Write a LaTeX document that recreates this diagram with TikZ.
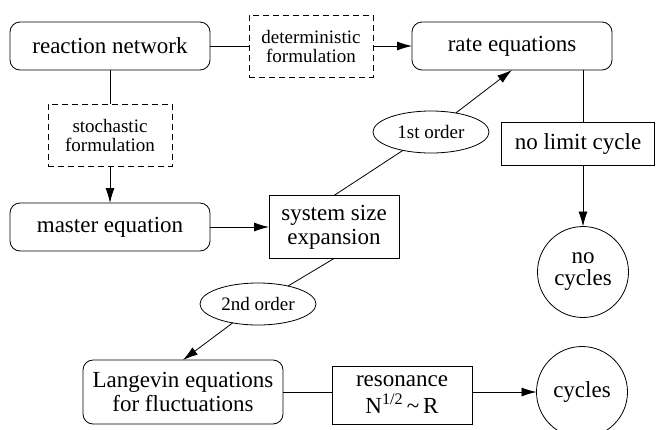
\documentclass[tikz,border=0pt]{standalone}
\usepackage{fontspec}
\setmainfont{Liberation Serif}
\usetikzlibrary{arrows.meta,shapes.geometric,positioning}

\begin{document}
\begin{tikzpicture}[
    x=1pt, y=-1pt,
    %framed,
    >={Latex[length=15pt,width=9pt]},
    every path/.style={line width=0.8pt},
    every node/.style={inner sep=0pt, outer sep=0pt, align=center, font=\fontsize{23}{24}\selectfont},
    punkt/.style={rectangle, rounded corners=10pt, draw=black, minimum width=200pt, minimum height=48pt},
    boks/.style={rectangle, draw=black, minimum height=43pt},
    stiplet/.style={rectangle, draw=black, dash pattern=on 6pt off 4pt, minimum width=124pt, minimum height=62pt, font=\fontsize{19}{19}\selectfont},
    oval/.style={ellipse, draw=black, minimum width=116pt, minimum height=42pt, font=\fontsize{19}{19}\selectfont},
    sirkel/.style={circle, draw=black, minimum size=91pt}
    ]
    \useasboundingbox (0,0) rectangle (656,429);
\node[punkt] (nettverk) at (110,46) {reaction network};
\node[stiplet] (determ) at (311,46) {deterministic\\formulation};
\node[punkt] (rate) at (512,46) {rate equations};
\node[stiplet] (stokast) at (110,135) {stochastic\\formulation};
\node[punkt] (master) at (110,227) {master equation};
\node[boks, minimum width=130pt, minimum height=63pt] (ekspansjon) at (334,227) {system size\\expansion};
\node[oval] (forste) at (431,132) {1st order};
\node[boks, minimum width=153pt] (grense) at (578,144) {no limit cycle};
\node[sirkel, font=\fontsize{23}{22}\selectfont] (ingen) at (583,272) {no\\cycles};
\node[oval] (andre) at (258,304) {2nd order};
\node[punkt, minimum height=64pt] (langevin) at (183,392) {Langevin equations\\for fluctuations};
\node[boks, minimum width=140pt, minimum height=58pt, font=\fontsize{23}{27}\selectfont] (resonans) at (402,395) {resonance\\N\textsuperscript{1/2}\,\textasciitilde\,R};
\node[sirkel] (sykler) at (582,392) {cycles};

% deterministic branch
\draw (nettverk) -- (determ);
\draw[->] (determ) -- (rate);
% stochastic branch
\draw (nettverk) -- (stokast);
\draw[->] (stokast) -- (master);
\draw[->] (master) -- (ekspansjon);
\draw (ekspansjon.north) -- (forste);
\draw[->] (forste) -- (rate.south);
\draw (ekspansjon.south) -- (andre);
\draw[->] (andre) -- (langevin.north);
% outcomes
\draw (rate.south -| ingen.north) -- (grense.north -| ingen.north);
\draw[->] (grense.south -| ingen.north) -- (ingen);
\draw (langevin) -- (resonans.west |- langevin);
\draw[->] (resonans.east |- sykler) -- (sykler);
\end{tikzpicture}
\end{document}
